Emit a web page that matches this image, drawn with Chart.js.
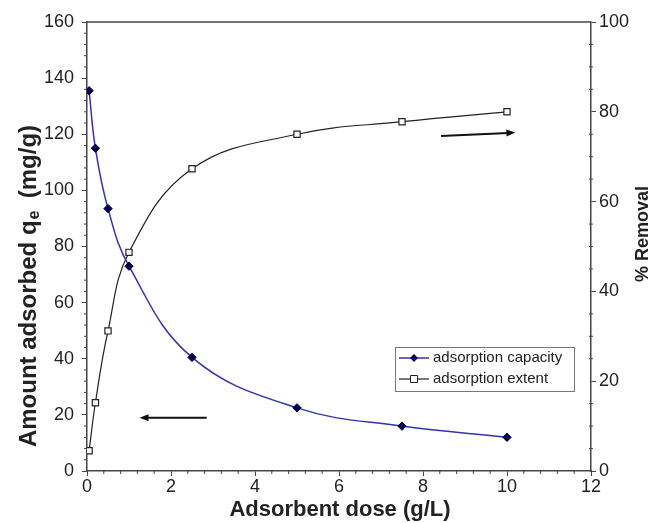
<!DOCTYPE html>
<html><head><meta charset="utf-8">
<script src="https://cdn.jsdelivr.net/npm/chart.js@4.4.1/dist/chart.umd.min.js"></script>
<style>html,body{margin:0;padding:0;background:#fff}</style>
</head><body>
<canvas id="c" width="653" height="523"></canvas>
<script>
// ---- data ----
const doses = [0.05, 0.2, 0.5, 1, 2.5, 5, 7.5, 10];
const capacity = [135.5, 115, 93.5, 73, 40.5, 22.5, 16, 12];
const removal = [4.5, 15.2, 31.2, 48.7, 67.3, 75, 77.8, 80];
const xTicks = [0, 2, 4, 6, 8, 10, 12];
const leftTicks = [0, 20, 40, 60, 80, 100, 120, 140, 160];
const rightTicks = [0, 20, 40, 60, 80, 100];
const seriesNames = ['adsorption capacity', 'adsorption extent'];
// arrow annotations in data units (x, left-axis y)
const arrowLeft = [[2.85, 19], [1.25, 19]];
const arrowRight = [[8.43, 119.4], [10.2, 120.6]];

const AX = '#444';
const TXT = '#222';
const FONT = '"Liberation Sans", Arial, sans-serif';

function drawArrow(ctx, x1, y1, x2, y2) {
  const ang = Math.atan2(y2 - y1, x2 - x1);
  const L = 9, W = 3.5;
  ctx.beginPath();
  ctx.moveTo(x1, y1);
  ctx.lineTo(x2 - Math.cos(ang) * L * 0.8, y2 - Math.sin(ang) * L * 0.8);
  ctx.strokeStyle = '#111'; ctx.lineWidth = 2; ctx.stroke();
  ctx.beginPath();
  ctx.moveTo(x2, y2);
  ctx.lineTo(x2 - Math.cos(ang) * L + Math.sin(ang) * W, y2 - Math.sin(ang) * L - Math.cos(ang) * W);
  ctx.lineTo(x2 - Math.cos(ang) * L - Math.sin(ang) * W, y2 - Math.sin(ang) * L + Math.cos(ang) * W);
  ctx.closePath(); ctx.fillStyle = '#111'; ctx.fill();
}

const decor = {
  id: 'decor',
  beforeDatasetsDraw(chart) {
    const {ctx, chartArea: a, scales} = chart;
    ctx.save();
    ctx.strokeStyle = AX; ctx.lineWidth = 1.5;
    ctx.beginPath(); ctx.moveTo(a.left, a.top); ctx.lineTo(a.right, a.top); ctx.stroke();
    ctx.lineWidth = 1;
    ctx.beginPath();
    for (let v = 0; v <= 160; v += 4) {
      if (v % 20 === 0) continue;
      const y = scales.y.getPixelForValue(v);
      ctx.moveTo(a.left - 3, y); ctx.lineTo(a.left, y);
    }
    for (let v = 0; v <= 100; v += 5) {
      if (v % 20 === 0) continue;
      const y = scales.y1.getPixelForValue(v);
      ctx.moveTo(a.right - 2, y); ctx.lineTo(a.right + 2, y);
    }
    for (let i = 0; i <= 30; i++) {
      if (i % 5 === 0) continue;
      const x = scales.x.getPixelForValue(i * 0.4);
      ctx.moveTo(x, a.bottom); ctx.lineTo(x, a.bottom + 3);
    }
    ctx.stroke();
    ctx.restore();
  },
  afterDraw(chart) {
    const {ctx, chartArea: a, scales} = chart;
    ctx.save();
    const p = (pt) => [scales.x.getPixelForValue(pt[0]), scales.y.getPixelForValue(pt[1])];
    let s = p(arrowLeft[0]), e = p(arrowLeft[1]);
    drawArrow(ctx, s[0], s[1], e[0], e[1]);
    s = p(arrowRight[0]); e = p(arrowRight[1]);
    drawArrow(ctx, s[0], s[1], e[0], e[1]);

    ctx.fillStyle = TXT;
    ctx.textBaseline = 'middle';
    // left title
    const big = 'bold 24px ' + FONT, sub = 'bold 16px ' + FONT;
    ctx.save();
    ctx.translate(29, 286);
    ctx.rotate(-Math.PI / 2);
    const p1 = 'Amount adsorbed q', p2 = 'e', p3 = '  (mg/g)';
    ctx.font = big; const w1 = ctx.measureText(p1).width, w3 = ctx.measureText(p3).width;
    ctx.font = sub; const w2 = ctx.measureText(p2).width;
    let x0 = -(w1 + w2 + w3) / 2;
    ctx.textAlign = 'left';
    ctx.font = big; ctx.fillText(p1, x0, 0);
    ctx.font = sub; ctx.fillText(p2, x0 + w1 + 1, 6);
    ctx.font = big; ctx.fillText(p3, x0 + w1 + w2, 0);
    ctx.restore();
    // right title
    ctx.save();
    ctx.translate(643, 234);
    ctx.rotate(-Math.PI / 2);
    ctx.font = 'bold 18px ' + FONT; ctx.textAlign = 'center';
    ctx.fillText('% Removal', 0, 0);
    ctx.restore();
    // x title
    ctx.font = 'bold 22px ' + FONT; ctx.textAlign = 'center';
    ctx.fillText('Adsorbent dose (g/L)', 340, 510);

    // legend
    const lx = a.right - 196, ly = a.top + 325, lw = 179, lh = 44;
    ctx.fillStyle = '#fff'; ctx.fillRect(lx, ly, lw, lh);
    ctx.strokeStyle = '#777'; ctx.lineWidth = 1; ctx.strokeRect(lx + 0.5, ly + 0.5, lw, lh);
    const ds = chart.data.datasets;
    ds.forEach((d, i) => {
      const yy = ly + 11 + i * 21;
      ctx.strokeStyle = d.borderColor; ctx.lineWidth = d.borderWidth;
      ctx.beginPath(); ctx.moveTo(lx + 4, yy); ctx.lineTo(lx + 34, yy); ctx.stroke();
      ctx.fillStyle = d.pointBackgroundColor; ctx.strokeStyle = d.pointBorderColor; ctx.lineWidth = 1;
      ctx.beginPath();
      if (d.pointStyle === 'rect') {
        ctx.rect(lx + 19 - 3.5, yy - 3.5, 7, 7); ctx.fill(); ctx.stroke();
      } else {
        ctx.moveTo(lx + 19, yy - 4); ctx.lineTo(lx + 23, yy); ctx.lineTo(lx + 19, yy + 4); ctx.lineTo(lx + 15, yy); ctx.closePath(); ctx.fill();
      }
      ctx.fillStyle = TXT; ctx.font = '15px ' + FONT; ctx.textAlign = 'left';
      ctx.fillText(seriesNames[i], lx + 38, yy);
    });
    ctx.restore();
  }
};

new Chart(document.getElementById('c'), {
  type: 'line',
  data: {
    datasets: [
      {
        label: seriesNames[0],
        data: doses.map((x, i) => ({x, y: capacity[i]})),
        yAxisID: 'y',
        borderColor: '#3333aa', borderWidth: 1.5,
        pointStyle: 'rectRot', pointRadius: 4.2,
        pointBackgroundColor: '#000050', pointBorderColor: '#000050', pointBorderWidth: 1,
        tension: 0.4, fill: false
      },
      {
        label: seriesNames[1],
        data: doses.map((x, i) => ({x, y: removal[i]})),
        yAxisID: 'y1',
        borderColor: '#222', borderWidth: 1.2,
        pointStyle: 'rect', pointRadius: 4.4,
        pointBackgroundColor: '#fff', pointBorderColor: '#222', pointBorderWidth: 1.2,
        tension: 0.4, fill: false
      }
    ]
  },
  options: {
    responsive: false,
    animation: false,
    devicePixelRatio: 1,
    layout: {padding: {top: 22, left: 0, right: 0, bottom: 0}},
    plugins: {legend: {display: false}, tooltip: {enabled: false}},
    scales: {
      x: {
        type: 'linear', min: 0, max: 12,
        afterBuildTicks: s => { s.ticks = xTicks.map(v => ({value: v})); },
        ticks: {color: TXT, font: {size: 18, family: FONT}, padding: 0, maxRotation: 0},
        grid: {drawOnChartArea: false, tickLength: 5, color: AX, lineWidth: 1},
        border: {color: AX, width: 1.5},
        afterFit: s => { s.height = 52; }
      },
      y: {
        position: 'left', min: 0, max: 160,
        afterBuildTicks: s => { s.ticks = leftTicks.map(v => ({value: v})); },
        ticks: {color: TXT, font: {size: 18, family: FONT}, padding: 8},
        grid: {drawOnChartArea: false, tickLength: 5, color: AX, lineWidth: 1},
        border: {color: AX, width: 1.5},
        afterFit: s => { s.width = 87; }
      },
      y1: {
        position: 'right', min: 0, max: 100,
        afterBuildTicks: s => { s.ticks = rightTicks.map(v => ({value: v})); },
        ticks: {color: TXT, font: {size: 18, family: FONT}, padding: 3},
        grid: {drawOnChartArea: false, tickLength: 5, color: AX, lineWidth: 1},
        border: {color: AX, width: 1.5},
        afterFit: s => { s.width = 62; }
      }
    }
  },
  plugins: [decor]
});
</script>
</body></html>
